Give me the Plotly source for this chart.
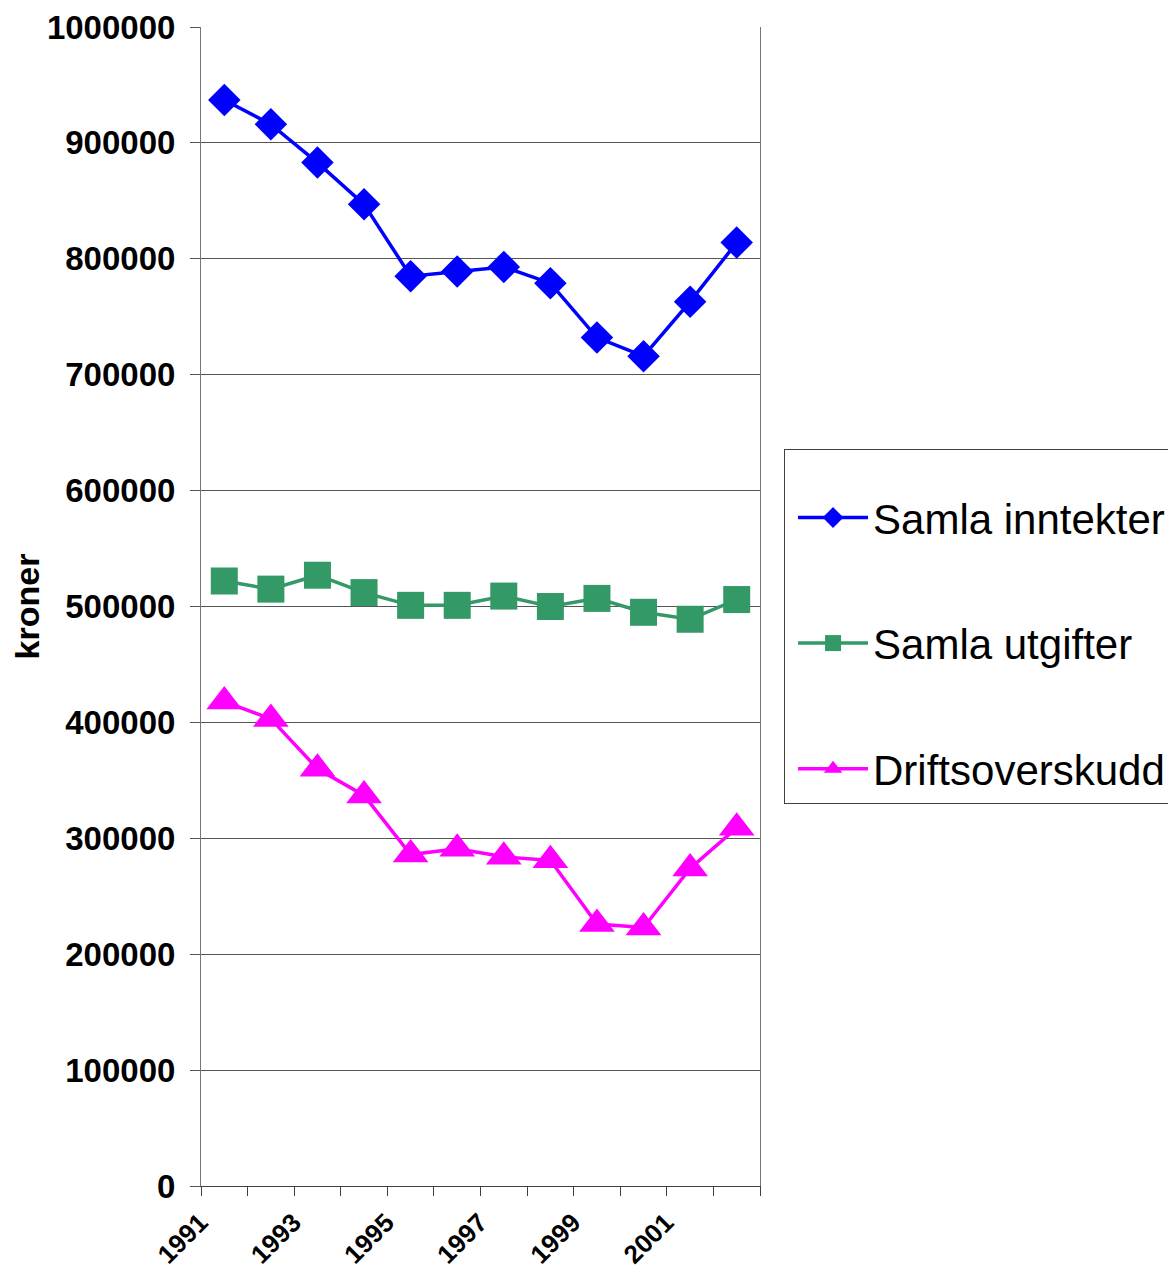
# Samla inntekter, utgifter og driftsoverskudd 1991-2002

import plotly.graph_objects as go

AAR = [1991, 1992, 1993, 1994, 1995, 1996,
       1997, 1998, 1999, 2000, 2001, 2002]

inntekter = [937000, 916000, 883000, 847000, 785000, 789000,
             793000, 779000, 732000, 716000, 763000, 814000]
utgifter = [522000, 515000, 527000, 512000, 501000, 501000,
            509000, 500000, 507000, 495000, 489000, 506000]
overskudd = [418000, 403000, 360000, 337000, 286000, 291000,
             284000, 281000, 226000, 223000, 274000, 309000]

# berre annakvart år får etikett
ETIKETT_AAR = [a for a in AAR if a % 2]

SERIAR = [
    ('Samla inntekter', inntekter, '#0000ff', 'diamond', 25),
    ('Samla utgifter', utgifter, '#339966', 'square', 27),
    ('Driftsoverskudd', overskudd, '#ff00ff', 'triangle-up', 31),
]

FONT = 'Arial, Liberation Sans, sans-serif'

fig = go.Figure()
for i, (namn, verdiar, farge, symbol, storleik) in enumerate(SERIAR):
    fig.add_trace(go.Scatter(
        x=AAR,
        y=verdiar,
        name=namn,
        legendgroup=str(i),
        mode='lines+markers',
        line=dict(color=farge, width=3.5),
        marker=dict(symbol=symbol, size=storleik, color=farge),
    ))

# sida har 8 px kantmarg, så margane er trekte frå det
fig.update_layout(
    width=1176,
    height=1270,
    margin=dict(l=193, r=424, t=19, b=92),
    paper_bgcolor='white',
    plot_bgcolor='white',
    font=dict(family=FONT, color='black'),
    showlegend=True,
    legend=dict(
        x=1.043, y=0.636, xanchor='left', yanchor='top',
        font=dict(size=42, family=FONT),
        title=dict(text=' ', font=dict(size=26)),
        bordercolor='#404040', borderwidth=1,
        tracegroupgap=68,
        itemwidth=70,
        indentation=8,
    ),
)

fig.update_xaxes(
    range=[AAR[0] - 0.5, AAR[-1] + 0.5],
    tickmode='array',
    tickvals=ETIKETT_AAR,
    ticks='',
    minor=dict(tickmode='linear', tick0=0.5, dtick=1, ticks='outside',
               ticklen=9, tickcolor='#404040', showgrid=False),
    tickangle=-45,
    tickfont=dict(size=26, family=FONT, weight='bold'),
    ticklabelshift=-24,
    ticklabelstandoff=10,
    showline=True,
    linecolor='#404040',
    linewidth=1,
    showgrid=False,
    zeroline=False,
    automargin=False,
)

fig.update_yaxes(
    range=[0, 1000000],
    tickmode='linear',
    tick0=0,
    dtick=100000,
    tickformat='d',
    ticks='outside',
    ticklen=10,
    tickcolor='#555555',
    tickfont=dict(size=33, family=FONT, weight='bold'),
    ticklabelstandoff=8,
    showline=True,
    mirror=True,
    linecolor='#777777',
    linewidth=1,
    showgrid=True,
    gridcolor='#555555',
    gridwidth=1,
    zeroline=False,
    automargin=False,
    title=dict(text='kroner', font=dict(size=34, family=FONT, weight='bold'),
               standoff=14),
)

fig.write_html('out.html')
